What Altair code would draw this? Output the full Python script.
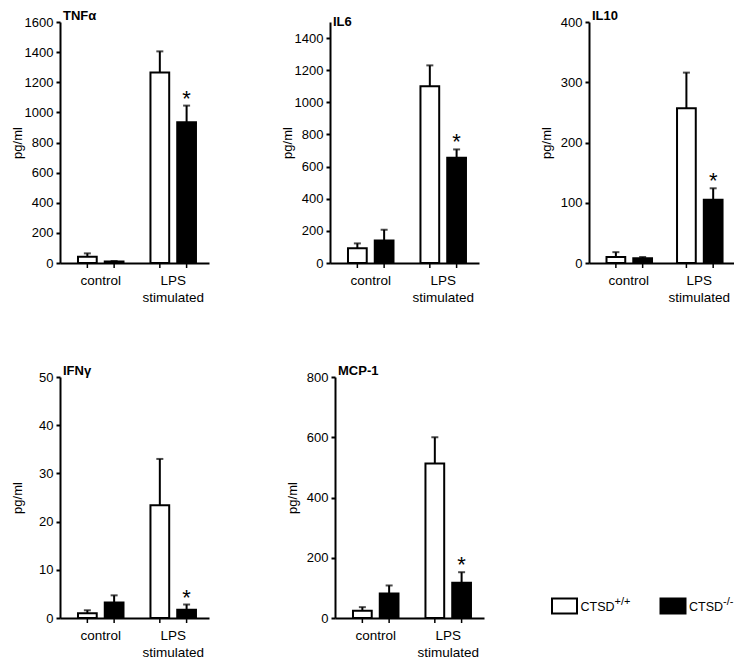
import altair as alt
import pandas as pd

conditions = ["control", "LPS stimulated"]
genotypes = ["CTSD+/+", "CTSD-/-"]
legend_base = ["CTSD", "CTSD"]
legend_sup = ["+/+", "-/-"]

panel_titles = ["TNFα", "IL6", "IL10", "IFNγ", "MCP-1"]
y_max = [1600, 1500, 400, 50, 800]
y_step = [200, 200, 100, 10, 200]

# order: control/+/+, control/-/-, LPS/+/+, LPS/-/-
tnf_mean = [42, 10, 1265, 935]
tnf_err = [22, 3, 140, 110]
il6_mean = [92, 140, 1100, 655]
il6_err = [30, 67, 130, 52]
il10_mean = [10, 8, 257, 105]
il10_err = [8, 2, 59, 19]
ifn_mean = [1.0, 3.2, 23.4, 1.7]
ifn_err = [0.6, 1.5, 9.6, 1.1]
mcp_mean = [24, 81, 513, 117]
mcp_err = [12, 27, 87, 35]
significant = [False, False, False, True]

FONT = "Liberation Sans"
fill_scale = alt.Scale(domain=genotypes, range=["white", "black"])


def panel(title, means, errs, ymax, ystep, width=149, height=241):
    pairs = [(c, g) for c in conditions for g in genotypes]
    df = pd.DataFrame({
        "cond": [p[0] for p in pairs],
        "geno": [p[1] for p in pairs],
        "mean": means,
        "upper": [m + e for m, e in zip(means, errs)],
        "zero": [0] * len(pairs),
        "star": ["*" if s else "" for s in significant],
    })
    tick_values = list(range(0, ymax + 1, ystep))
    xenc = alt.X(
        "cond:N", sort=conditions,
        scale=alt.Scale(paddingInner=0.372, paddingOuter=0.214, align=0.58),
        axis=alt.Axis(
            title=None, labelAngle=0, ticks=False, domainColor="black",
            domainWidth=2, labelFontSize=13.5, labelPadding=10,
            labelColor="black", labelFont=FONT, labelLineHeight=17,
            labelExpr="datum.value == 'LPS stimulated' ? ['LPS', 'stimulated'] : datum.value",
        ),
    )
    xoff = alt.XOffset("geno:N", sort=genotypes,
                       scale=alt.Scale(paddingInner=0.3, paddingOuter=0))
    yscale = alt.Scale(domain=[0, ymax], nice=False, zero=True)
    yaxis = alt.Axis(
        title="pg/ml", values=tick_values, tickCount=len(tick_values),
        format="d", grid=False, labelOverlap=False,
        domainColor="black", domainWidth=2, tickColor="black", tickWidth=2,
        tickSize=4, labelFontSize=13, labelPadding=3, labelColor="black",
        labelFont=FONT, titleFont=FONT, titleFontSize=13,
        titleFontWeight="normal", titleColor="black", titlePadding=1,
        minExtent=35, maxExtent=35,
    )

    def Y(field):
        return alt.Y(field, scale=yscale, axis=yaxis)

    base = alt.Chart(df).encode(x=xenc, xOffset=xoff)
    bars = base.mark_bar(stroke="black", strokeWidth=2).encode(
        y=Y("mean:Q"),
        fill=alt.Fill("geno:N", scale=fill_scale, legend=None),
    )
    err = base.mark_rule(color="black", strokeWidth=2).encode(
        y=Y("mean:Q"), y2="upper:Q")
    cap = base.mark_tick(color="black", size=7, thickness=2).encode(
        y=Y("upper:Q"))
    star = base.mark_text(fontSize=22, baseline="alphabetic", dy=0,
                          font=FONT, color="black").encode(
        y=Y("upper:Q"), text="star:N")
    xt = base.mark_rule(color="black", strokeWidth=1.5, y2Offset=5).encode(
        y=Y("zero:Q"), y2="zero:Q")
    return alt.layer(bars, err, cap, star, xt).properties(
        width=width, height=height,
        title=alt.TitleParams(text=title, anchor="start", frame="group",
                              fontSize=13, fontWeight="bold", font=FONT,
                              offset=-7, dx=3, color="black"),
    )


p1 = panel(panel_titles[0], tnf_mean, tnf_err, y_max[0], y_step[0])
p2 = panel(panel_titles[1], il6_mean, il6_err, y_max[1], y_step[1])
p3 = panel(panel_titles[2], il10_mean, il10_err, y_max[2], y_step[2], width=145)
p4 = panel(panel_titles[3], ifn_mean, ifn_err, y_max[3], y_step[3])
p5 = panel(panel_titles[4], mcp_mean, mcp_err, y_max[4], y_step[4])

leg_df = pd.DataFrame({"geno": genotypes, "base": legend_base, "sup": legend_sup})
leg_x = alt.X("geno:N", sort=genotypes,
              scale=alt.Scale(type="point", range=[12.5, 121], padding=0),
              axis=None)
leg_y = 229
leg_box = alt.Chart(leg_df).mark_point(
    shape="M-1,-0.6H1V0.6H-1Z", size=625, filled=True, opacity=1,
    stroke="black", strokeWidth=2,
).encode(x=leg_x, y=alt.value(leg_y),
         fill=alt.Fill("geno:N", scale=fill_scale, legend=None))
leg_txt = alt.Chart(leg_df).mark_text(
    align="left", baseline="middle", dx=16, fontSize=12.5, font=FONT, color="black"
).encode(x=leg_x, y=alt.value(leg_y + 1), text="base:N")
leg_sup = alt.Chart(leg_df).mark_text(
    align="left", baseline="middle", dx=50, dy=-5, fontSize=11, font=FONT, color="black"
).encode(x=leg_x, y=alt.value(leg_y + 1), text="sup:N")
legend = alt.layer(leg_box, leg_txt, leg_sup).properties(width=150, height=241)

top = alt.hconcat(p1, alt.hconcat(p2, p3, spacing=61), spacing=72)
bottom = alt.hconcat(p4, alt.hconcat(p5, legend, spacing=64), spacing=77)
chart = alt.vconcat(top, bottom, spacing=61).properties(
    padding={"left": 3, "top": 2, "right": 0, "bottom": 0}
).configure(font=FONT).configure_view(strokeWidth=0, stroke="transparent")

chart.save("out.html", embed_options={"renderer": "svg", "actions": False})
